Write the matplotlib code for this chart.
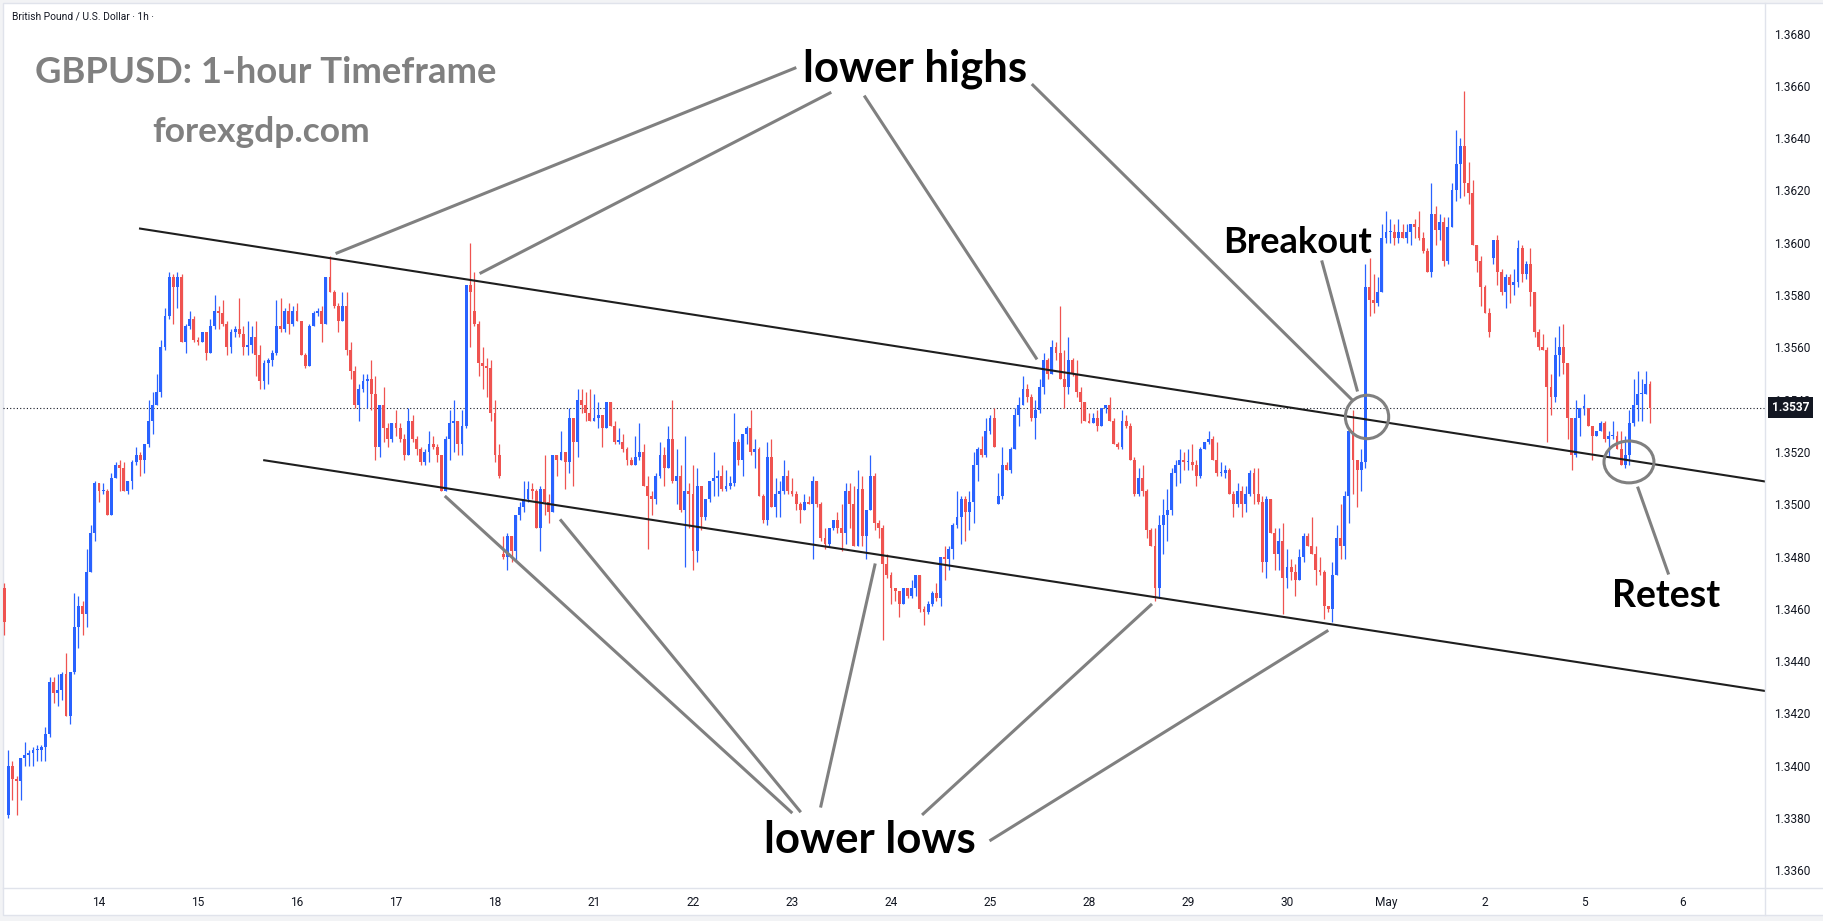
import matplotlib.pyplot as plt
import numpy as np
from matplotlib.patches import Ellipse, Rectangle
from matplotlib.lines import Line2D

# GBPUSD 1h candles, prices in pips above 1.3000
BASE = 1.3
opens = [
    468, 381, 400, 395, 394, 403, 404, 405, 406, 406,
    407, 412, 432, 428, 429, 435, 419, 436, 453, 461,
    458, 474, 489, 508, 505, 505, 496, 510, 515, 514,
    505, 509, 516, 519, 517, 523, 532, 538, 543, 560,
    572, 587, 583, 587, 562, 568, 571, 563, 562, 566,
    558, 568, 574, 573, 569, 560, 566, 567, 565, 560,
    561, 564, 557, 547, 554, 555, 558, 568, 567, 574,
    569, 574, 570, 557, 553, 568, 573, 574, 569, 587,
    581, 576, 570, 576, 559, 551, 538, 544, 547, 548,
    542, 522, 538, 529, 525, 531, 529, 525, 519, 532,
    525, 521, 516, 520, 523, 522, 519, 505, 525, 531,
    532, 523, 530, 584, 574, 569, 554, 553, 552, 535,
    519, 481, 480, 488, 482, 496, 499, 502, 506, 505,
    491, 506, 501, 497, 519, 517, 520, 516, 533, 524,
    540, 538, 535, 532, 533, 534, 529, 539, 530, 524,
    524, 521, 517, 515, 518, 520, 507, 503, 502, 511,
    519, 514, 525, 509, 511, 498, 505, 504, 482, 507,
    495, 502, 509, 510, 511, 506, 507, 508, 524, 517,
    527, 529, 520, 521, 503, 494, 518, 499, 504, 505,
    511, 505, 504, 500, 498, 501, 500, 509, 500, 487,
    485, 491, 494, 491, 489, 505, 500, 484, 506, 488,
    498, 511, 493, 491, 477, 473, 468, 467, 462, 468,
    465, 468, 473, 460, 459, 462, 466, 464, 480, 479,
    483, 492, 495, 502, 497, 501, 515, 521, 519, 528,
    533, 500, 503, 515, 513, 521, 534, 538, 544, 541,
    533, 536, 545, 555, 550, 560, 558, 548, 545, 555,
    550, 543, 539, 532, 531, 533, 530, 537, 538, 532,
    523, 522, 532, 530, 517, 504, 510, 505, 490, 484,
    468, 492, 496, 498, 512, 515, 517, 516, 516, 515,
    511, 521, 524, 525, 517, 512, 512, 513, 504, 500,
    505, 500, 504, 512, 504, 501, 478, 502, 489, 481,
    486, 472, 476, 474, 471, 480, 488, 484, 481, 475,
    474, 461, 460, 473, 487, 484, 503, 528, 517, 513,
    516, 583, 578, 577, 581, 602, 604, 604, 602, 604,
    602, 604, 607, 606, 602, 597, 589, 611, 605, 608,
    593, 606, 620, 630, 637, 623, 619, 599, 593, 583,
    573, 594, 601, 589, 581, 587, 584, 585, 598, 588,
    592, 581, 566, 560, 559, 545, 541, 557, 560, 554,
    533, 519, 533, 537, 537, 530, 526, 528, 531, 525,
    526, 526, 521, 515, 519, 531, 538, 542, 542, 546,
]
highs = [
    470, 406, 402, 396, 403, 409, 406, 407, 408, 408,
    415, 434, 434, 435, 436, 443, 436, 466, 465, 463,
    483, 492, 509, 508, 508, 506, 512, 516, 517, 516,
    509, 517, 522, 520, 523, 540, 543, 550, 563, 575,
    589, 588, 589, 588, 569, 574, 572, 564, 566, 566,
    571, 580, 576, 578, 570, 567, 568, 579, 568, 570,
    568, 570, 561, 555, 556, 559, 578, 579, 575, 577,
    576, 577, 570, 558, 569, 574, 575, 576, 587, 595,
    582, 577, 581, 581, 562, 553, 546, 550, 550, 555,
    549, 538, 545, 531, 531, 536, 531, 527, 537, 534,
    526, 522, 521, 528, 526, 523, 519, 526, 536, 540,
    532, 536, 584, 600, 589, 570, 560, 556, 555, 540,
    523, 488, 489, 488, 496, 501, 509, 509, 508, 506,
    507, 519, 504, 519, 519, 528, 520, 537, 533, 544,
    544, 543, 544, 542, 539, 534, 539, 539, 532, 529,
    527, 522, 518, 526, 531, 523, 511, 505, 512, 524,
    522, 530, 540, 521, 515, 526, 508, 515, 514, 507,
    502, 509, 520, 513, 515, 513, 511, 535, 525, 527,
    530, 536, 525, 522, 504, 524, 525, 510, 509, 517,
    513, 510, 505, 501, 504, 503, 511, 509, 501, 491,
    491, 494, 497, 500, 508, 508, 507, 513, 511, 498,
    519, 512, 494, 492, 481, 474, 468, 467, 468, 468,
    471, 473, 473, 461, 463, 467, 470, 480, 484, 484,
    493, 505, 503, 503, 505, 520, 522, 526, 533, 534,
    537, 512, 522, 516, 522, 537, 541, 549, 546, 542,
    540, 548, 558, 556, 563, 562, 576, 559, 564, 556,
    555, 545, 539, 535, 535, 536, 537, 538, 541, 533,
    524, 536, 534, 531, 518, 514, 515, 506, 491, 491,
    496, 502, 506, 514, 517, 521, 520, 521, 523, 517,
    522, 524, 528, 526, 524, 516, 515, 514, 505, 508,
    507, 507, 513, 514, 514, 503, 503, 502, 491, 491,
    493, 483, 479, 477, 483, 489, 489, 495, 484, 480,
    475, 461, 478, 492, 500, 505, 529, 536, 517, 521,
    592, 594, 588, 587, 607, 612, 609, 607, 609, 607,
    607, 607, 609, 612, 604, 598, 623, 614, 611, 610,
    610, 623, 643, 640, 658, 631, 624, 599, 595, 584,
    575, 601, 603, 590, 588, 588, 590, 601, 599, 593,
    598, 581, 567, 565, 560, 550, 564, 568, 569, 554,
    533, 540, 537, 542, 537, 530, 528, 532, 532, 528,
    532, 528, 528, 526, 536, 548, 551, 548, 551, 547,
]
lows = [
    450, 380, 387, 381, 387, 400, 400, 400, 402, 402,
    402, 411, 424, 423, 425, 419, 416, 435, 445, 450,
    453, 474, 486, 501, 504, 496, 496, 510, 505, 505,
    504, 506, 515, 511, 512, 522, 527, 538, 541, 559,
    571, 569, 575, 562, 558, 567, 562, 561, 562, 555,
    558, 567, 567, 568, 557, 558, 564, 564, 557, 557,
    558, 549, 544, 544, 546, 553, 557, 566, 566, 565,
    568, 570, 557, 552, 553, 568, 572, 562, 569, 581,
    575, 566, 570, 557, 548, 537, 532, 543, 537, 536,
    517, 518, 524, 522, 524, 526, 524, 517, 519, 524,
    519, 515, 515, 516, 521, 516, 505, 505, 517, 520,
    519, 519, 529, 560, 568, 549, 544, 541, 532, 516,
    510, 479, 475, 478, 478, 494, 497, 501, 502, 491,
    482, 496, 493, 497, 511, 517, 506, 512, 507, 518,
    535, 532, 532, 532, 529, 522, 529, 530, 523, 523,
    520, 515, 515, 515, 517, 507, 483, 496, 500, 510,
    507, 514, 508, 500, 497, 476, 491, 475, 478, 490,
    494, 501, 503, 503, 505, 505, 506, 507, 515, 511,
    523, 519, 514, 503, 493, 492, 499, 495, 495, 504,
    504, 503, 498, 493, 498, 500, 479, 499, 486, 483,
    484, 490, 489, 482, 485, 491, 484, 484, 484, 479,
    498, 490, 487, 448, 472, 462, 463, 457, 462, 464,
    464, 465, 459, 454, 458, 461, 463, 461, 471, 475,
    479, 491, 485, 486, 490, 493, 509, 518, 518, 527,
    522, 500, 502, 513, 512, 521, 530, 538, 539, 532,
    525, 535, 542, 548, 550, 555, 548, 537, 542, 549,
    541, 531, 532, 531, 531, 528, 530, 535, 532, 523,
    521, 521, 529, 517, 503, 503, 503, 487, 484, 463,
    464, 481, 486, 496, 507, 508, 513, 513, 513, 507,
    510, 521, 523, 517, 511, 511, 510, 504, 495, 499,
    495, 497, 503, 500, 500, 474, 472, 489, 475, 475,
    458, 468, 471, 465, 471, 478, 484, 481, 469, 473,
    456, 459, 455, 473, 479, 479, 493, 504, 499, 505,
    514, 572, 573, 576, 581, 600, 600, 599, 600, 602,
    600, 599, 602, 601, 596, 589, 587, 599, 601, 591,
    592, 606, 616, 617, 618, 615, 599, 589, 576, 573,
    564, 592, 584, 580, 575, 577, 580, 583, 585, 586,
    576, 564, 559, 559, 524, 534, 539, 549, 550, 525,
    513, 518, 526, 534, 530, 517, 526, 528, 524, 518,
    525, 521, 515, 514, 515, 530, 532, 532, 542, 531,
]
closes = [
    455, 400, 395, 394, 403, 404, 405, 406, 406, 407,
    412, 432, 428, 429, 435, 419, 436, 453, 461, 458,
    474, 489, 508, 505, 505, 496, 510, 515, 514, 505,
    509, 516, 519, 517, 523, 532, 538, 543, 560, 572,
    587, 583, 587, 562, 568, 571, 563, 562, 566, 558,
    568, 574, 573, 569, 560, 566, 567, 565, 560, 561,
    564, 557, 547, 554, 555, 558, 568, 567, 574, 569,
    574, 570, 557, 553, 568, 573, 574, 569, 587, 581,
    576, 570, 576, 559, 551, 538, 544, 547, 548, 542,
    522, 538, 529, 525, 531, 529, 525, 519, 532, 525,
    521, 516, 520, 523, 522, 519, 505, 525, 531, 532,
    523, 530, 584, 581, 569, 554, 553, 552, 535, 519,
    511, 480, 488, 482, 496, 499, 502, 506, 505, 491,
    506, 501, 497, 519, 517, 520, 516, 533, 524, 540,
    538, 535, 532, 533, 534, 529, 539, 530, 524, 524,
    521, 517, 515, 518, 520, 507, 503, 502, 511, 519,
    514, 525, 509, 511, 498, 505, 504, 482, 507, 495,
    502, 509, 510, 511, 506, 507, 508, 524, 517, 527,
    529, 520, 521, 503, 494, 518, 499, 504, 505, 511,
    505, 504, 500, 498, 501, 500, 509, 500, 487, 485,
    491, 494, 491, 489, 505, 500, 484, 506, 488, 498,
    511, 493, 491, 477, 473, 468, 467, 462, 468, 465,
    468, 473, 460, 459, 462, 466, 464, 480, 479, 483,
    492, 495, 502, 497, 501, 515, 521, 519, 528, 533,
    522, 503, 515, 513, 521, 534, 538, 544, 541, 533,
    536, 545, 555, 550, 560, 558, 548, 545, 555, 550,
    543, 539, 532, 531, 533, 530, 537, 538, 532, 523,
    522, 532, 530, 517, 504, 510, 505, 490, 484, 468,
    492, 496, 498, 512, 515, 517, 516, 516, 515, 511,
    521, 524, 525, 517, 512, 512, 513, 504, 500, 505,
    500, 504, 512, 504, 501, 478, 502, 489, 481, 486,
    472, 476, 474, 471, 480, 488, 484, 481, 475, 474,
    461, 460, 473, 487, 484, 503, 528, 517, 513, 516,
    583, 578, 577, 581, 602, 604, 604, 602, 604, 602,
    604, 607, 606, 602, 597, 589, 611, 605, 608, 593,
    606, 620, 630, 637, 623, 619, 599, 593, 583, 573,
    566, 601, 589, 581, 587, 584, 585, 598, 588, 592,
    581, 566, 560, 559, 545, 541, 557, 560, 554, 533,
    519, 533, 537, 537, 530, 526, 528, 531, 525, 526,
    526, 521, 515, 519, 531, 538, 542, 542, 546, 537,
]

last_price = 1.3537
day_labels = ['14', '15', '16', '17', '18', '21', '22', '23', '24', '25',
              '28', '29', '30', 'May', '2', '5', '6']
price_ticks = [1.3360, 1.3380, 1.3400, 1.3420, 1.3440, 1.3460, 1.3480, 1.3500, 1.3520,
               1.3540, 1.3560, 1.3580, 1.3600, 1.3620, 1.3640, 1.3660, 1.3680]

# drawn annotations: (bar index, price)
upper_trend = ([33.7, 428.0], [1.36055, 1.35087])
lower_trend = ([63.8, 428.0], [1.35169, 1.34286])
high_pointers = [
    ([192.7, 81.7], [1.36668, 1.35961]),
    ([201.2, 116.6], [1.36573, 1.35885]),
    ([209.7, 251.2], [1.36558, 1.35559]),
    ([250.4, 327.8], [1.36603, 1.35399]),
]
low_pointers = [
    ([108.1, 191.8], [1.35028, 1.33823]),
    ([136.0, 193.9], [1.34938, 1.33827]),
    ([212.1, 199.0], [1.34768, 1.33846]),
    ([279.0, 223.8], [1.34615, 1.33816]),
    ([321.7, 240.2], [1.34515, 1.33716]),
]
breakout_pointer = ([320.5, 329.0], [1.35927, 1.35437])
retest_pointer = ([397.1, 404.4], [1.35062, 1.34737])
breakout_circle = (331.4, 1.35334)
retest_circle = (394.9, 1.35162)

BLUE = '#2962ff'
RED = '#ef5350'
GREY = '#808080'
INK = '#131722'
FRAME = '#e0e3eb'

W, H = 1824, 921
fig = plt.figure(figsize=(W / 100, H / 100), dpi=100)
fig.patch.set_facecolor('#f2f3f5')
fig.add_artist(Rectangle((3 / W, 1 - 915 / H), 1 - 3 / W, 912 / H, transform=fig.transFigure,
                         facecolor='white', edgecolor=FRAME, linewidth=1, zorder=-1))

ax = fig.add_axes([3 / W, 1 - 888 / H, 1762 / W, 885 / H])
ax.set_facecolor('none')
for s in ax.spines.values():
    s.set_visible(False)

o = BASE + np.array(opens) / 1e4
h = BASE + np.array(highs) / 1e4
l = BASE + np.array(lows) / 1e4
c = BASE + np.array(closes) / 1e4
idx = np.arange(1, len(o) + 1)
cols = np.where(c >= o, BLUE, RED)

ax.vlines(idx, l, h, colors=cols, linewidth=0.9, zorder=2)
ax.bar(idx, np.maximum(np.abs(c - o), 0.00004), bottom=np.minimum(o, c), width=0.72,
       color=cols, linewidth=0, zorder=2)

ax.set_xlim(3 / 4.125, 1765 / 4.125)
ax.set_ylim(1.335327, 1.36917)

ax.axhline(last_price, color=INK, linestyle=(0, (1, 2)), linewidth=0.8, zorder=1)

# trend channel
for xs, ys in (upper_trend, lower_trend):
    ax.plot(xs, ys, color='#1e1e1e', linewidth=1.5, zorder=3, solid_capstyle='butt')

# pointers and circles
for xs, ys in high_pointers + low_pointers + [breakout_pointer, retest_pointer]:
    ax.plot(xs, ys, color=GREY, linewidth=2.2, zorder=4)
ax.add_patch(Ellipse(breakout_circle, width=10.5, height=0.00166, fill=False,
                     edgecolor=GREY, linewidth=2.2, zorder=4))
ax.add_patch(Ellipse(retest_circle, width=12.1, height=0.0016, fill=False,
                     edgecolor=GREY, linewidth=2.2, zorder=4))

big = dict(fontfamily='Lato', fontweight='bold', color='black', ha='center', va='baseline', zorder=5)
ax.text(221.8, 1.36615, 'lower highs', fontsize=31.5, **big)
ax.text(210.9, 1.33667, 'lower lows', fontsize=31.5, **big)
ax.text(314.5, 1.35961, 'Breakout', fontsize=26, **big)
ax.text(403.8, 1.34607, 'Retest', fontsize=27, **big)

fig.text(266 / W, 1 - 82.7 / H, 'GBPUSD: 1-hour Timeframe', fontfamily='Lato', fontweight='bold',
         fontsize=26.3, color=GREY, ha='center', va='baseline')
fig.text(261 / W, 1 - 142 / H, 'forexgdp.com', fontfamily='Lato', fontweight='bold',
         fontsize=25.5, color=GREY, ha='center', va='baseline')
fig.text(12 / W, 1 - 17 / H, 'British Pound / U.S. Dollar · 1h ·', fontfamily='Roboto',
         fontsize=7.4, color=INK, ha='left', va='center')

# axes ticks
ax.set_xticks([24 * (k + 1) for k in range(len(day_labels))])
ax.set_xticklabels(day_labels)
ax.yaxis.tick_right()
ax.set_yticks(price_ticks)
ax.set_yticklabels([f'{p:.4f}' for p in price_ticks])
ax.tick_params(axis='x', length=0, pad=6, labelsize=8.6, labelcolor=INK)
ax.tick_params(axis='y', length=0, pad=6.5, labelsize=8.6, labelcolor=INK)
for lab in ax.get_xticklabels() + ax.get_yticklabels():
    lab.set_fontfamily('Roboto')

ax.text(1 + 7 / 1762, last_price, f'{last_price:.4f}', transform=ax.get_yaxis_transform(),
        ha='left', va='center', fontsize=8.6, fontfamily='Roboto', fontweight='bold',
        color='white', zorder=6, clip_on=False,
        bbox=dict(boxstyle='square,pad=0.3', facecolor=INK, edgecolor='none'))

# panel separators
fig.add_artist(Line2D([3 / W, 1], [1 - 888 / H] * 2, color=FRAME, linewidth=1))
fig.add_artist(Line2D([1765 / W] * 2, [1 - 3 / H, 1 - 915 / H], color=FRAME, linewidth=1))

fig.savefig('out.png', dpi=100, facecolor=fig.get_facecolor())
